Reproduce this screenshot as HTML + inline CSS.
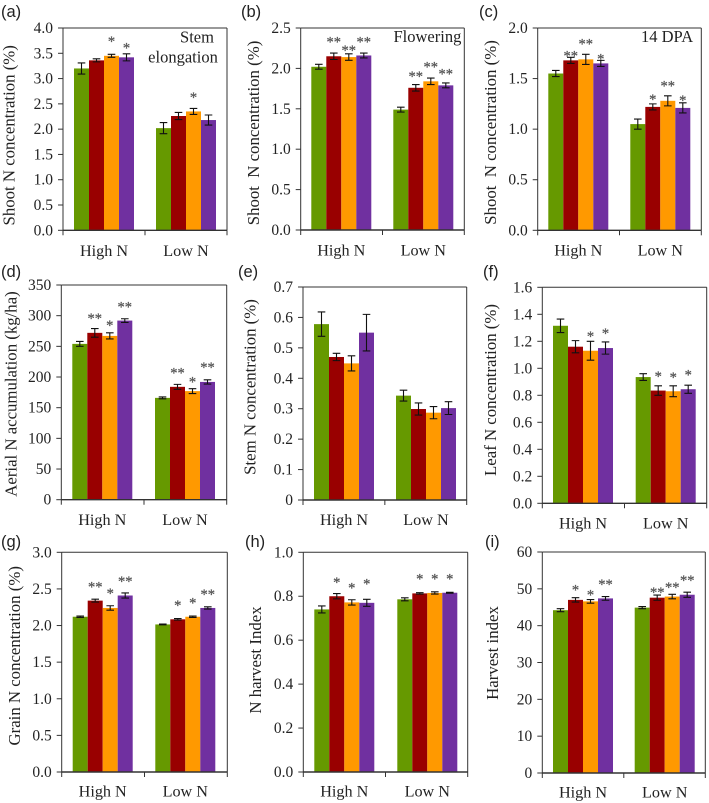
<!DOCTYPE html>
<html lang="en">
<head>
<meta charset="utf-8">
<title>Nitrogen concentration bar charts</title>
<style>
  html, body { margin: 0; padding: 0; background: #fff; width: 709px; height: 803px; overflow: hidden; }
  svg { display: block; filter: blur(0.35px); }
  text { font-family: "Liberation Serif", serif; fill: #222; }
  .panel-label { font-family: "Liberation Sans", sans-serif; font-size: 16.5px; }
  .y-title { font-size: 16.8px; text-anchor: middle; }
  .note { font-size: 16.5px; }
  .tick { font-size: 15.5px; text-anchor: end; }
  .cat { font-size: 16.2px; text-anchor: middle; }
  .star { font-size: 14.5px; text-anchor: middle; fill: #555; stroke: #555; stroke-width: 0.25px; }
</style>
</head>
<body>
<svg id="figure" width="709" height="803" viewBox="0 0 709 803" xmlns="http://www.w3.org/2000/svg">
  <g>
    <text class="panel-label" x="1" y="17">(a)</text>
    <text class="panel-label" x="241" y="17">(b)</text>
    <text class="panel-label" x="479" y="17">(c)</text>
    <text class="panel-label" x="1" y="277">(d)</text>
    <text class="panel-label" x="238" y="277">(e)</text>
    <text class="panel-label" x="483" y="277">(f)</text>
    <text class="panel-label" x="1" y="547">(g)</text>
    <text class="panel-label" x="245" y="547">(h)</text>
    <text class="panel-label" x="485" y="547">(i)</text>
  </g>
  <g>
    <text class="y-title" transform="translate(14.5 135.3) rotate(-90)">Shoot N concentration (%)</text>
    <text class="y-title" transform="translate(259 133) rotate(-90)">Shoot&#160; N concentration (%)</text>
    <text class="y-title" transform="translate(496 132.5) rotate(-90)">Shoot&#160; N concentration (%)</text>
    <text class="y-title" transform="translate(16.7 394) rotate(-90)">Aerial N accumulation (kg/ha)</text>
    <text class="y-title" transform="translate(255.7 387) rotate(-90)">Stem N concentration (%)</text>
    <text class="y-title" transform="translate(496 390) rotate(-90)">Leaf N concentration (%)</text>
    <text class="y-title" transform="translate(20 655.8) rotate(-90)">Grain N concentration (%)</text>
    <text class="y-title" transform="translate(261 660) rotate(-90)">N harvest Index</text>
    <text class="y-title" transform="translate(498 653) rotate(-90)">Harvest index</text>
  </g>
  <g>
    <text class="note" x="197" y="42.7" text-anchor="middle">Stem</text>
    <text class="note" x="183" y="62.7" text-anchor="middle">elongation</text>
    <text class="note" x="393.5" y="42">Flowering</text>
    <text class="note" x="641" y="42">14 DPA</text>
  </g>
</svg>
<script>
// Shared categories and treatments
const categories = ['High N', 'Low N'];
const treatments = ['green', 'red', 'orange', 'purple'];
const treatmentColors = ['#669900', '#990000', '#ff9900', '#7030a0'];

// Panel (a)
const aTicks = ['0.0', '0.5', '1.0', '1.5', '2.0', '2.5', '3.0', '3.5', '4.0'];
const aValues = [3.2, 3.36, 3.45, 3.42, 2.02, 2.26, 2.35, 2.18];
const aErrors = [0.11, 0.03, 0.03, 0.07, 0.11, 0.07, 0.06, 0.1];
const aStars = ['', '', '*', '*', '', '', '*', ''];
const aStarLevels = [0, 0, 3.78, 3.65, 0, 0, 2.68, 0];

// Panel (b)
const bTicks = ['0.0', '0.5', '1.0', '1.5', '2.0', '2.5'];
const bValues = [2.02, 2.15, 2.14, 2.16, 1.49, 1.76, 1.84, 1.79];
const bErrors = [0.03, 0.04, 0.04, 0.03, 0.03, 0.04, 0.04, 0.03];
const bStars = ['', '**', '**', '**', '', '**', '**', '**'];
const bStarLevels = [0, 2.36, 2.25, 2.36, 0, 1.93, 2.05, 1.96];

// Panel (c)
const cTicks = ['0.0', '0.5', '1.0', '1.5', '2.0'];
const cValues = [1.55, 1.68, 1.69, 1.65, 1.05, 1.22, 1.28, 1.21];
const cErrors = [0.03, 0.03, 0.05, 0.03, 0.05, 0.03, 0.05, 0.05];
const cStars = ['', '**', '**', '*', '', '*', '**', '*'];
const cStarLevels = [0, 1.75, 1.865, 1.72, 0, 1.32, 1.45, 1.31];

// Panel (d)
const dTicks = ['0', '50', '100', '150', '200', '250', '300', '350'];
const dValues = [254, 272, 267, 292, 166, 184, 177, 192];
const dErrors = [4, 7, 5, 3, 1.5, 4, 4, 3.5];
const dStars = ['', '**', '*', '**', '', '**', '*', '**'];
const dStarLevels = [0, 299.5, 288, 318.5, 0, 211, 195.6, 219.5];

// Panel (e)
const eTicks = ['0', '0.1', '0.2', '0.3', '0.4', '0.5', '0.6', '0.7'];
const eValues = [0.578, 0.47, 0.449, 0.55, 0.343, 0.299, 0.287, 0.302];
const eErrors = [0.04, 0.012, 0.025, 0.06, 0.018, 0.02, 0.02, 0.021];
const eStars = ['', '', '', '', '', '', '', ''];
const eStarLevels = [0, 0, 0, 0, 0, 0, 0, 0];

// Panel (f)
const fTicks = ['0.0', '0.2', '0.4', '0.6', '0.8', '1.0', '1.2', '1.4', '1.6'];
const fValues = [1.315, 1.16, 1.13, 1.15, 0.935, 0.835, 0.83, 0.845];
const fErrors = [0.05, 0.045, 0.07, 0.045, 0.025, 0.035, 0.04, 0.03];
const fStars = ['', '', '*', '*', '', '*', '*', '*'];
const fStarLevels = [0, 0, 1.254, 1.277, 0, 0.958, 0.95, 0.968];

// Panel (g)
const gTicks = ['0.0', '0.5', '1.0', '1.5', '2.0', '2.5', '3.0'];
const gValues = [2.12, 2.34, 2.24, 2.41, 2.015, 2.085, 2.12, 2.24];
const gErrors = [0.01, 0.02, 0.03, 0.035, 0.005, 0.01, 0.01, 0.015];
const gStars = ['', '**', '*', '**', '', '*', '*', '**'];
const gStarLevels = [0, 2.56, 2.47, 2.635, 0, 2.31, 2.34, 2.46];

// Panel (h)
const hTicks = ['0.0', '0.2', '0.4', '0.6', '0.8', '1.0'];
const hValues = [0.74, 0.8, 0.772, 0.77, 0.786, 0.813, 0.815, 0.816];
const hErrors = [0.016, 0.012, 0.012, 0.016, 0.007, 0.003, 0.005, 0.002];
const hStars = ['', '*', '*', '*', '', '*', '*', '*'];
const hStarLevels = [0, 0.875, 0.85, 0.868, 0, 0.889, 0.889, 0.889];

// Panel (i)
const iTicks = ['0', '10', '20', '30', '40', '50', '60'];
const iValues = [44.2, 47, 46.6, 47.4, 44.9, 47.6, 47.9, 48.4];
const iErrors = [0.4, 0.6, 0.5, 0.5, 0.3, 0.7, 0.6, 0.7];
const iStars = ['', '*', '*', '**', '', '**', '**', '**'];
const iStarLevels = [0, 50.3, 49, 51.9, 0, 49.7, 51.1, 52.9];

const SVG_NS = 'http://www.w3.org/2000/svg';
const figure = document.getElementById('figure');

function mk(parent, tag, attrs, content) {
  const el = document.createElementNS(SVG_NS, tag);
  for (const k in attrs) el.setAttribute(k, attrs[k]);
  if (content !== undefined) el.textContent = content;
  parent.appendChild(el);
  return el;
}

function drawPanel(id, box, ticks, values, errors, stars, starLevels) {
  const domainMax = parseFloat(ticks[ticks.length - 1]);
  const yScale = v => box.bottom - (v / domainMax) * (box.bottom - box.top);
  const barW = 15;
  const perGroup = treatments.length;
  const xScale = i => {
    const group = Math.floor(i / perGroup);
    return box.groupStart[group] + (i % perGroup) * barW;
  };

  const panel = mk(figure, 'g', {});
  
  

  // Bars first, so the axes and whiskers sit on top
  values.forEach((v, i) => {
    const bar = mk(panel, 'rect', {
      x: xScale(i), y: yScale(v), width: barW, height: yScale(0) - yScale(v),
      fill: treatmentColors[i % perGroup]
    });
    
    
  });

  // Frame: thin top and right edges, heavier left and bottom axes
  const frameTop = mk(panel, 'line', { x1: box.left, x2: box.right, y1: box.top, y2: box.top, stroke: '#333', 'stroke-width': 1 });
  
  
  const frameRight = mk(panel, 'line', { x1: box.right, x2: box.right, y1: box.top, y2: box.bottom, stroke: '#333', 'stroke-width': 1 });
  
  
  const yAxis = mk(panel, 'line', { x1: box.left, x2: box.left, y1: box.top, y2: box.bottom, stroke: '#333', 'stroke-width': 1 });
  
  
  const xAxis = mk(panel, 'line', { x1: box.left, x2: box.right, y1: box.bottom, y2: box.bottom, stroke: '#333', 'stroke-width': 1.4 });
  
  

  ticks.forEach(t => {
    const y = yScale(parseFloat(t));
    const mark = mk(panel, 'line', { x1: box.left - 5, x2: box.left, y1: y, y2: y, stroke: '#333', 'stroke-width': 1 });
    
    
    const label = mk(panel, 'text', { class: 'tick', x: box.left - 10, y: y + 5 }, t);
    
    
  });

  // Category ticks: left edge, divider, right edge
  [0, 1, 2].forEach(k => {
    const x = box.left + (box.right - box.left) * k / 2;
    const mark = mk(panel, 'line', { x1: x, x2: x, y1: box.bottom, y2: box.bottom + 5, stroke: '#333', 'stroke-width': 1 });
    
    
  });
  categories.forEach((c, g) => {
    const label = mk(panel, 'text', { class: 'cat', x: box.groupStart[g] + barW * perGroup / 2, y: box.catY }, c);
    
    
  });

  // Whiskers and significance marks
  values.forEach((v, i) => {
    const cx = xScale(i) + barW / 2;
    const yHi = yScale(v + errors[i]);
    const yLo = yScale(v - errors[i]);
    const whisker = mk(panel, 'path', {
      d: 'M' + (cx - 3.8) + ' ' + yHi + 'H' + (cx + 3.8) + 'M' + cx + ' ' + yHi + 'V' + yLo + 'M' + (cx - 3.8) + ' ' + yLo + 'H' + (cx + 3.8),
      fill: 'none', stroke: '#111', 'stroke-width': 1.1
    });
    
    
    if (stars[i]) {
      const star = mk(panel, 'text', { class: 'star', x: cx, y: yScale(starLevels[i]) + 7 }, stars[i]);
      
      
    }
  });
}

drawPanel('a', { left: 63, right: 227, top: 28, bottom: 230.3, groupStart: [74, 156], catY: 256 }, aTicks, aValues, aErrors, aStars, aStarLevels);
drawPanel('b', { left: 300.7, right: 464.3, top: 28, bottom: 230, groupStart: [311.3, 393.3], catY: 255.5 }, bTicks, bValues, bErrors, bStars, bStarLevels);
drawPanel('c', { left: 537.7, right: 701.3, top: 28, bottom: 230.3, groupStart: [548.3, 630.3], catY: 255.5 }, cTicks, cValues, cErrors, cStars, cStarLevels);
drawPanel('d', { left: 61.3, right: 226.7, top: 285, bottom: 499.7, groupStart: [72.3, 155], catY: 525 }, dTicks, dValues, dErrors, dStars, dStarLevels);
drawPanel('e', { left: 303, right: 466.7, top: 287, bottom: 500, groupStart: [314, 396], catY: 525 }, eTicks, eValues, eErrors, eStars, eStarLevels);
drawPanel('f', { left: 542.3, right: 706.7, top: 287.3, bottom: 503.3, groupStart: [553, 635.7], catY: 528.7 }, fTicks, fValues, fErrors, fStars, fStarLevels);
drawPanel('g', { left: 61.7, right: 227.3, top: 552.3, bottom: 772, groupStart: [72.7, 155.3], catY: 796.7 }, gTicks, gValues, gErrors, gStars, gStarLevels);
drawPanel('h', { left: 303.3, right: 467.7, top: 552.3, bottom: 772, groupStart: [314.3, 397.3], catY: 796.7 }, hTicks, hValues, hErrors, hStars, hStarLevels);
drawPanel('i', { left: 542.3, right: 705.3, top: 552, bottom: 773, groupStart: [553, 634.7], catY: 797.7 }, iTicks, iValues, iErrors, iStars, iStarLevels);
</script>
</body>
</html>
